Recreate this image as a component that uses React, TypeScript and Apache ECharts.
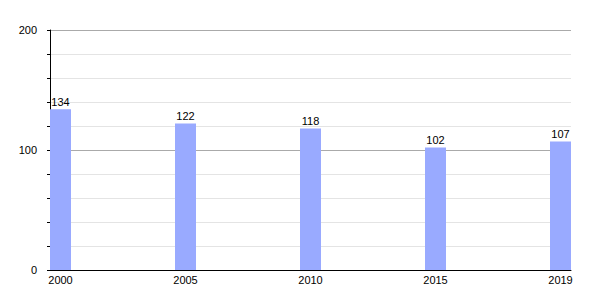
import React, { useEffect, useRef } from "react";
import * as echarts from "echarts";

const categories = ["2000", "2005", "2010", "2015", "2019"];
const values = [134, 122, 118, 102, 107];

export default function App() {
  const ref = useRef<HTMLDivElement>(null);
  useEffect(() => {
    const chart = echarts.init(ref.current!, null, { renderer: "svg" });
    const font = "Liberation Sans, Arial, sans-serif";
    chart.setOption({
      animation: false,
      grid: { left: 50, right: 29, top: 30, bottom: 30, containLabel: false },
      xAxis: {
        type: "value",
        min: -0.084,
        max: 4.084,
        axisLine: { show: true, onZero: false, lineStyle: { color: "#000", width: 1 } },
        axisTick: { show: false },
        splitLine: { show: false },
        axisLabel: {
          customValues: categories.map((_, i) => i),
          formatter: (v: number) => categories[Math.round(v)] ?? "",
          color: "#000",
          fontSize: 11,
          fontFamily: font,
          margin: 4,
        },
      },
      yAxis: {
        type: "value",
        min: 0,
        max: 200,
        interval: 20,
        axisLine: { show: true, onZero: false, lineStyle: { color: "#000", width: 1 } },
        axisTick: { show: true, length: 3, lineStyle: { color: "#000" } },
        splitLine: {
          show: true,
          lineStyle: { color: ["#aaaaaa", "#e4e4e4", "#e4e4e4", "#e4e4e4", "#e4e4e4"], width: 1 },
        },
        axisLabel: {
          formatter: (v: number) => (v % 100 === 0 ? String(v) : ""),
          color: "#000",
          fontSize: 11,
          fontFamily: font,
          margin: 13,
        },
      },
      series: [
        {
          type: "bar",
          data: values.map((v, i) => [i, v]),
          barWidth: 21,
          itemStyle: { color: "#99aaff" },
          label: {
            show: true,
            position: "top",
            distance: 2,
            color: "#000",
            fontSize: 11,
            fontFamily: font,
          },
        },
      ],
    });
    return () => chart.dispose();
  }, []);
  return <div ref={ref} style={{ width: 600, height: 300, position: "absolute", left: 0, top: 0 }} />;
}
